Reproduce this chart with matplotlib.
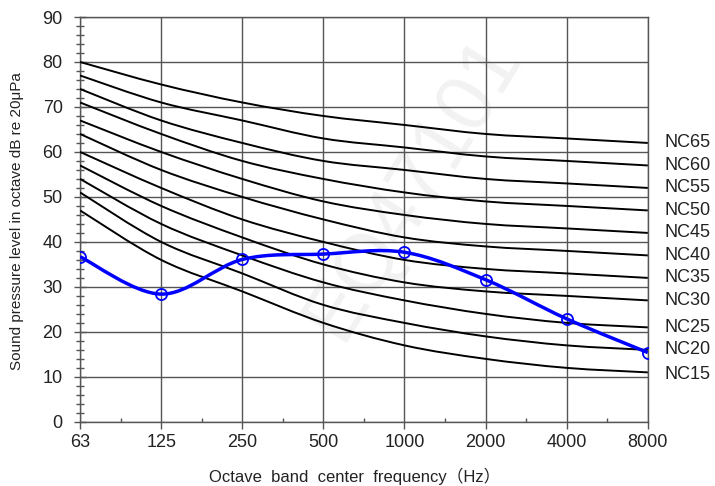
import matplotlib
matplotlib.use("Agg")
import matplotlib.pyplot as plt
from matplotlib.path import Path
from matplotlib.patches import PathPatch
from matplotlib.ticker import MultipleLocator, FixedLocator
import numpy as np

plt.rcParams['font.family'] = ['Liberation Sans', 'Noto Sans CJK SC', 'DejaVu Sans']

freq_labels = ["63", "125", "250", "500", "1000", "2000", "4000", "8000"]

nc_names = ["NC65", "NC60", "NC55", "NC50", "NC45", "NC40", "NC35", "NC30", "NC25", "NC20", "NC15"]
nc65 = [80, 75, 71, 68, 66, 64, 63, 62]
nc60 = [77, 71, 67, 63, 61, 59, 58, 57]
nc55 = [74, 67, 62, 58, 56, 54, 53, 52]
nc50 = [71, 64, 58, 54, 51, 49, 48, 47]
nc45 = [67, 60, 54, 49, 46, 44, 43, 42]
nc40 = [64, 56, 50, 45, 41, 39, 38, 37]
nc35 = [60, 52, 45, 40, 36, 34, 33, 32]
nc30 = [57, 48, 41, 35, 31, 29, 28, 27]
nc25 = [54, 44, 37, 31, 27, 24, 22, 21]
nc20 = [51, 40, 33, 26, 22, 19, 17, 16]
nc15 = [47, 36, 29, 22, 17, 14, 12, 11]
nc_curves = [nc65, nc60, nc55, nc50, nc45, nc40, nc35, nc30, nc25, nc20, nc15]
nc_label_y = [62, 57, 52, 47, 42, 37, 32, 27, 21, 16, 10.5]

measured = [36.7, 28.4, 36.1, 37.3, 37.7, 31.6, 22.9, 15.4]


def smooth_path(xs, ys):
    pts = np.column_stack([xs, ys]).astype(float)
    n = len(pts)
    verts = [pts[0]]
    codes = [Path.MOVETO]
    for i in range(n - 1):
        p0 = pts[i - 1] if i > 0 else pts[i]
        p1 = pts[i]
        p2 = pts[i + 1]
        p3 = pts[i + 2] if i + 2 < n else pts[i + 1]
        c1 = p1 + (p2 - p0) / 6.0
        c2 = p2 - (p3 - p1) / 6.0
        verts += [c1, c2, p2]
        codes += [Path.CURVE4] * 3
    return Path(verts, codes)


fig = plt.figure(figsize=(7.15, 4.86), dpi=100)
ax = fig.add_axes([0.112, 0.132, 0.794, 0.833])

x = np.arange(len(freq_labels))

ax.set_xlim(0, len(freq_labels) - 1)
ax.set_ylim(0, 90)

# watermark
ax.text(4.1, 52, "EQ47101", fontsize=58, color='#f2f2f2', rotation=58,
        ha='center', va='center', zorder=0.5)

ax.grid(True, color='#555555', linewidth=1.0, zorder=1)
ax.set_axisbelow(True)

for curve in nc_curves:
    ax.add_patch(PathPatch(smooth_path(x, curve), facecolor='none',
                           edgecolor='black', linewidth=1.4, zorder=3))

for name, yv in zip(nc_names, nc_label_y):
    ax.annotate(name, xy=(x[-1], yv), xytext=(12, 0), textcoords='offset points',
                ha='left', va='center', fontsize=13, color='#222222',
                annotation_clip=False)

ax.add_patch(PathPatch(smooth_path(x, measured), facecolor='none',
                       edgecolor='#0000ff', linewidth=2.5, zorder=4))
ax.plot(x, measured, linestyle='none', marker='o', markersize=8,
        markerfacecolor='none', markeredgecolor='#0000ff', markeredgewidth=1.3, zorder=5)

ax.set_xticks(x)
ax.set_xticklabels(freq_labels, fontsize=13, color='#222222')
ax.xaxis.set_minor_locator(FixedLocator(x[:-1] + 0.5))
ax.yaxis.set_major_locator(MultipleLocator(10))
ax.yaxis.set_minor_locator(MultipleLocator(2))
ax.tick_params(axis='y', which='major', direction='inout', length=9, width=1,
               labelsize=13, labelcolor='#222222', color='#555555', pad=8)
ax.tick_params(axis='y', which='minor', direction='inout', length=6, width=1, color='#555555')
ax.tick_params(axis='x', which='major', direction='out', length=5, width=1,
               color='#555555', pad=4)
ax.tick_params(axis='x', which='minor', direction='in', length=3, width=1, color='#555555')

for s in ax.spines.values():
    s.set_color('#555555')
    s.set_linewidth(1.0)

fig.text(0.024, 0.545, "Sound pressure level in octave dB re 20μPa", fontsize=11,
         color='#222222', rotation=90, ha='center', va='center')
fig.text(0.496, 0.019, "Octave  band  center  frequency（Hz）", fontsize=12,
         color='#222222', ha='center', va='center')

fig.savefig("out.png", dpi=100)
